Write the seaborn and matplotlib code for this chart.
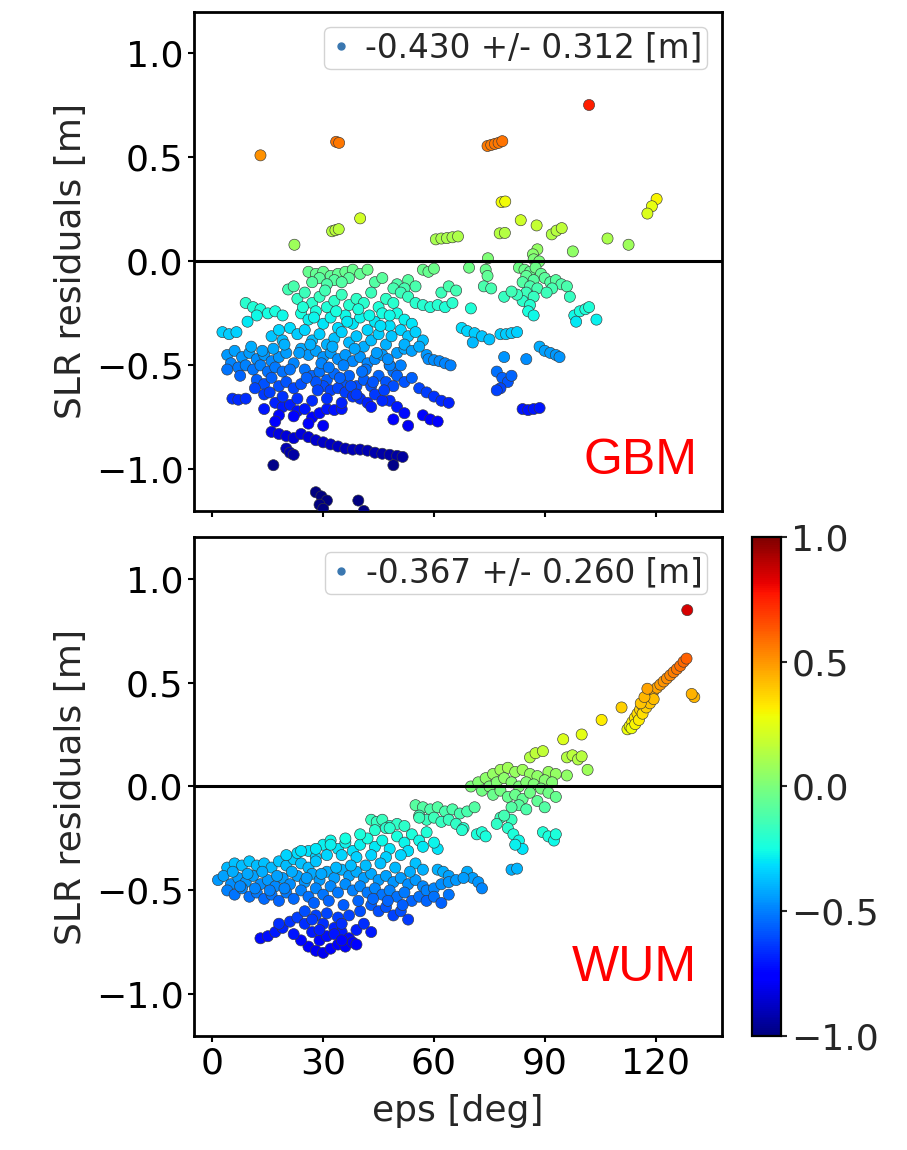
import matplotlib
matplotlib.use("Agg")
import matplotlib.pyplot as plt
import numpy as np
import pandas as pd
import seaborn as sns
from matplotlib.colors import Normalize
from matplotlib.cm import ScalarMappable
from matplotlib.lines import Line2D

sns.set_theme(style="ticks")
plt.rcParams["font.family"] = ["DejaVu Sans"]

# ---------------------------------------------------------------- GBM orbit
gbm_eps = [
    13, 33.5, 34.3, 74.5, 75.5, 76.5, 77.5, 78.5, 102,
    78.3, 79.3, 120.3, 119, 117.8, 40, 32.4, 33.3, 34.2, 22.2,
    60.5, 62, 63.5, 65, 66.5, 77.8, 79.2, 83.5, 87.8,
    91.9, 93.2, 94.6, 107, 112.7, 97.6, 88, 86.8, 74.6, 87, 88.5,
    26, 28, 30, 32, 34, 36, 38, 29, 33, 37, 40, 42, 27, 31, 35, 20.5,
    44, 46, 50, 53, 57, 58.5, 60, 55, 52, 69.5, 74, 74.5, 73.5, 75.5,
    83, 84.5, 86, 87.5, 89, 85, 87, 84, 86, 88, 85, 87, 84, 86, 85.5, 87,
    90, 91.5, 93, 94.5, 96, 92, 90.5, 82.5, 96.8, 79, 81,
    98, 99.5, 101, 102, 98.5, 104,
    9, 11, 13, 15, 17, 19, 12, 9.5, 2.7, 4.5, 6.5,
    23, 25, 27, 29, 31, 33, 35, 37, 39, 41, 43, 45, 47, 49,
    24, 26, 28, 30, 32, 34, 36, 38, 40, 42, 44, 46, 48,
    21, 23, 25, 27, 29, 31, 33, 35, 37, 39, 41, 43, 45, 47, 16, 18, 19,
    49, 51, 53, 55, 57, 59, 61, 63, 65, 62, 64, 66, 50, 52, 54, 48, 70,
    67.5, 69, 71, 73, 75, 70.5, 78, 79.5, 81, 82.5,
    4, 6, 8, 10, 12, 14, 16, 18, 20, 22, 5, 7, 4, 9, 11, 13, 15, 17, 19, 21,
    24, 26, 28, 30, 32, 34, 36, 38, 40, 42, 44, 46, 48, 50, 52,
    25, 27, 29, 31, 33, 35, 37, 39, 41, 43, 45, 47, 49, 51,
    30, 32, 34, 36, 38, 28, 12, 14, 16, 18, 20, 22, 24,
    51, 53, 55, 57, 52, 54, 56, 58, 58.5, 60, 61.5, 63, 64.5,
    79, 85, 88.6, 90, 91.5, 93, 94, 77, 78.5, 80, 81, 78, 77,
    84, 85.5, 87, 88.6, 48, 50, 52, 54, 56, 49, 58, 60, 62, 64,
    57, 59, 61, 48, 50, 52, 49, 53, 40, 42, 44, 46,
    5.4, 7, 9, 14, 14, 17, 19, 21, 23, 18, 22, 25, 27, 29, 26, 30, 31, 33, 35, 17,
    16, 18, 20, 22, 24, 26, 28, 30, 32, 34, 36, 38, 40, 42, 44, 46, 48, 50, 51.5,
    20, 21, 22, 16.5, 49, 28, 29.5, 31, 29, 39.5, 30, 41,
    22, 24.5, 27.5, 30.5, 33.5, 36.5, 39.5, 42.5, 45.5, 48.5,
    23.5, 26.5, 29.5, 32.5, 35.5, 38.5, 41.5, 44.5, 47.5,
    25.5, 28.5, 31.5, 34.5, 37.5, 40.5, 43.5, 46.5,
    10.5, 13.5, 16.5, 19.5, 7.5, 11.5, 15.5, 19, 23, 27, 31, 35, 39, 43,
]
gbm_res = [
    0.51, 0.575, 0.57, 0.555, 0.56, 0.565, 0.57, 0.578, 0.752,
    0.285, 0.288, 0.30, 0.265, 0.23, 0.207, 0.145, 0.15, 0.155, 0.08,
    0.106, 0.11, 0.112, 0.116, 0.12, 0.135, 0.137, 0.198, 0.173,
    0.13, 0.148, 0.16, 0.11, 0.08, 0.048, 0.058, 0.034, 0.015, 0.01, 0.0,
    -0.05, -0.06, -0.05, -0.07, -0.06, -0.05, -0.04, -0.08, -0.09, -0.08, -0.06, -0.04, -0.1, -0.11, -0.1, -0.135,
    -0.1, -0.08, -0.11, -0.09, -0.04, -0.05, -0.035, -0.12, -0.13, -0.03, -0.04, -0.07, -0.12, -0.13,
    -0.03, -0.04, -0.05, -0.03, -0.06, -0.07, -0.09, -0.1, -0.12, -0.13, -0.15, -0.17, -0.19, -0.21, -0.24, -0.26,
    -0.08, -0.1, -0.09, -0.11, -0.12, -0.13, -0.15, -0.16, -0.17, -0.17, -0.145,
    -0.26, -0.24, -0.23, -0.22, -0.29, -0.28,
    -0.2, -0.22, -0.23, -0.25, -0.24, -0.26, -0.26, -0.29, -0.34, -0.35, -0.34,
    -0.18, -0.15, -0.2, -0.17, -0.22, -0.19, -0.16, -0.21, -0.18, -0.2, -0.15, -0.22, -0.18, -0.2,
    -0.25, -0.28, -0.24, -0.3, -0.27, -0.32, -0.26, -0.3, -0.27, -0.33, -0.29, -0.25, -0.31,
    -0.32, -0.35, -0.33, -0.38, -0.35, -0.4, -0.37, -0.34, -0.39, -0.36, -0.41, -0.38, -0.35, -0.4, -0.36, -0.33, -0.38,
    -0.13, -0.15, -0.17, -0.2, -0.21, -0.22, -0.21, -0.22, -0.2, -0.15, -0.12, -0.14, -0.25, -0.28, -0.3, -0.26, -0.226,
    -0.32, -0.335, -0.345, -0.36, -0.375, -0.39, -0.35, -0.35, -0.345, -0.34,
    -0.45, -0.43, -0.46, -0.44, -0.47, -0.45, -0.48, -0.46, -0.44, -0.49, -0.49, -0.51, -0.52, -0.5, -0.52, -0.5, -0.53, -0.51, -0.53, -0.52,
    -0.42, -0.45, -0.43, -0.46, -0.44, -0.47, -0.45, -0.48, -0.46, -0.49, -0.47, -0.45, -0.5, -0.44, -0.42,
    -0.52, -0.55, -0.53, -0.57, -0.54, -0.58, -0.55, -0.6, -0.57, -0.6, -0.55, -0.58, -0.53, -0.5,
    -0.6, -0.62, -0.61, -0.63, -0.65, -0.58, -0.57, -0.59, -0.56, -0.6, -0.58, -0.61, -0.59,
    -0.33, -0.36, -0.34, -0.38, -0.4, -0.43, -0.41, -0.45, -0.47, -0.475, -0.48, -0.49, -0.5,
    -0.46, -0.47, -0.41, -0.43, -0.44, -0.45, -0.46, -0.53, -0.56, -0.58, -0.55, -0.61, -0.62,
    -0.71, -0.715, -0.71, -0.705, -0.5, -0.55, -0.58, -0.56, -0.61, -0.6, -0.63, -0.65, -0.67, -0.68,
    -0.74, -0.76, -0.77, -0.67, -0.7, -0.73, -0.76, -0.79, -0.66, -0.68, -0.64, -0.67,
    -0.66, -0.665, -0.66, -0.64, -0.71, -0.68, -0.7, -0.69, -0.72, -0.74, -0.745, -0.71, -0.75, -0.73, -0.78, -0.79, -0.71, -0.715, -0.71, -0.77,
    -0.82, -0.83, -0.84, -0.85, -0.83, -0.845, -0.86, -0.87, -0.88, -0.89, -0.9, -0.905, -0.905, -0.91, -0.92, -0.925, -0.93, -0.935, -0.94,
    -0.9, -0.92, -0.93, -0.98, -0.98, -1.11, -1.13, -1.15, -1.17, -1.15, -1.19, -1.2,
    -0.12, -0.22, -0.27, -0.14, -0.24, -0.29, -0.23, -0.26, -0.31, -0.36,
    -0.44, -0.4, -0.49, -0.41, -0.5, -0.42, -0.52, -0.44, -0.47,
    -0.56, -0.62, -0.51, -0.56, -0.6, -0.53, -0.58, -0.62,
    -0.41, -0.43, -0.42, -0.4, -0.55, -0.61, -0.63, -0.65, -0.66, -0.67, -0.66, -0.68, -0.64, -0.7,
]

# ---------------------------------------------------------------- WUM orbit
wum_eps = [
    128.6, 130.5, 129.8, 110.8, 105.4, 100, 95,
    112.4, 113, 113.7, 114.4, 115.1, 115.8, 116.5, 117.2, 117.9, 118.6, 119.5,
    120.4, 121.3, 122.2, 123.1, 124, 124.9, 125.8, 126.7, 127.6, 128.4,
    113.5, 114.5, 115.5, 116.5, 117.5, 118.5, 119.5, 116, 117, 117.8,
    96, 97.5, 99, 100, 101.6, 86, 87.5, 89.5, 96, 91, 93,
    70, 72, 74, 76, 78, 80, 82, 84, 86, 88, 90, 92,
    73, 75, 77, 79, 81, 83, 85, 87, 89, 91, 93,
    76, 78, 80, 82, 84, 86, 88, 90, 83, 85, 81,
    55, 57, 59, 61, 63, 65, 67, 69, 71, 56, 58, 60, 62, 64, 66, 68, 67.6,
    43, 44.5, 46, 48, 50, 47, 81, 80, 81.5, 83, 84, 82, 78, 77, 79,
    89.5, 91, 92.5, 93, 71.6, 73, 74, 81, 82.5, 69, 70.5, 72, 73, 61, 62.5, 64, 55, 57, 61, 60,
    30, 32, 34, 36, 38, 40, 42, 44, 46, 48, 50, 52, 54, 56, 58, 53, 57, 35, 39, 43, 47, 51, 31, 26, 28,
    4, 6, 8, 10, 12, 14, 16, 18, 20, 22, 24, 26, 28, 23,
    1.5, 3, 5, 7, 9, 11, 13, 15, 17, 19, 21, 23, 25, 27, 29,
    31, 33, 35, 37, 39, 41, 43, 45, 47, 49, 51, 53, 55, 57,
    4, 6, 8, 10, 12, 14, 16, 18, 20, 22, 24, 26, 28, 30, 32, 34,
    36, 38, 40, 42, 44, 46, 48, 50, 52, 54, 56, 58, 60, 62, 64, 66, 68,
    43, 45, 47, 49, 51, 53, 58, 60, 62, 64,
    13, 15, 17, 19, 21, 23, 25, 27, 29, 31, 33, 35, 37, 39, 41, 43,
    26, 28, 30, 32, 34, 36, 38, 24, 22, 25, 28, 31, 34, 37, 40, 30, 35,
    5.5, 9.5, 13.5, 17.5, 21.5, 25.5, 29.5, 33.5, 37.5, 41.5, 45.5, 49.5, 53.5,
    7.5, 11.5, 15.5, 19.5, 27.5, 31.5, 35.5, 39.5, 43.5, 47.5, 51.5,
    20, 24, 28, 32, 36, 40, 44, 48, 52, 56,
    18, 27, 33, 39, 29, 35,
]
wum_res = [
    0.848, 0.43, 0.445, 0.38, 0.32, 0.25, 0.227,
    0.275, 0.29, 0.31, 0.33, 0.35, 0.37, 0.39, 0.41, 0.43, 0.445, 0.46,
    0.475, 0.49, 0.505, 0.52, 0.535, 0.55, 0.565, 0.58, 0.6, 0.615,
    0.28, 0.3, 0.32, 0.35, 0.38, 0.4, 0.42, 0.4, 0.43, 0.47,
    0.14, 0.15, 0.13, 0.145, 0.08, 0.14, 0.16, 0.17, 0.053, 0.07, 0.06,
    0.0, 0.02, 0.04, 0.06, 0.08, 0.09, 0.07, 0.08, 0.06, 0.05, 0.03, 0.02,
    -0.02, 0.0, 0.02, 0.04, 0.02, 0.0, 0.02, 0.01, -0.01, -0.03, -0.05,
    -0.04, -0.02, -0.05, -0.04, -0.06, -0.03, -0.07, -0.1, -0.09, -0.11, -0.1,
    -0.09, -0.1, -0.11, -0.1, -0.12, -0.11, -0.13, -0.12, -0.1, -0.14, -0.16, -0.15, -0.17, -0.16, -0.18, -0.2, -0.21,
    -0.16, -0.17, -0.16, -0.19, -0.18, -0.2, -0.16, -0.2, -0.23, -0.26, -0.3, -0.28, -0.15, -0.18, -0.14,
    -0.22, -0.24, -0.26, -0.23, -0.23, -0.22, -0.24, -0.4, -0.395, -0.41, -0.44, -0.46, -0.49, -0.4, -0.41, -0.43, -0.37, -0.4, -0.3, -0.27,
    -0.28, -0.26, -0.3, -0.27, -0.31, -0.28, -0.25, -0.29, -0.26, -0.3, -0.24, -0.27, -0.23, -0.26, -0.22, -0.31, -0.29, -0.33, -0.34, -0.33, -0.34, -0.33, -0.33, -0.31, -0.34,
    -0.39, -0.37, -0.38, -0.36, -0.38, -0.37, -0.39, -0.36, -0.38, -0.35, -0.37, -0.39, -0.36, -0.32,
    -0.45, -0.43, -0.47, -0.44, -0.46, -0.43, -0.47, -0.45, -0.48, -0.44, -0.47, -0.43, -0.46, -0.42, -0.45,
    -0.41, -0.44, -0.4, -0.43, -0.41, -0.44, -0.42, -0.45, -0.43, -0.46, -0.44, -0.47, -0.45, -0.48,
    -0.5, -0.52, -0.49, -0.53, -0.51, -0.54, -0.52, -0.55, -0.51, -0.54, -0.5, -0.53, -0.49, -0.52, -0.48, -0.51,
    -0.47, -0.5, -0.48, -0.51, -0.49, -0.52, -0.5, -0.53, -0.51, -0.55, -0.53, -0.5, -0.49, -0.47, -0.46, -0.45, -0.44,
    -0.57, -0.6, -0.58, -0.62, -0.6, -0.64, -0.55, -0.53, -0.56, -0.52,
    -0.73, -0.72, -0.7, -0.68, -0.65, -0.63, -0.66, -0.7, -0.74, -0.72, -0.68, -0.7, -0.73, -0.69, -0.66, -0.7,
    -0.77, -0.79, -0.8, -0.78, -0.76, -0.77, -0.75, -0.74, -0.71, -0.6, -0.62, -0.61, -0.63, -0.62, -0.6, -0.66, -0.66,
    -0.41, -0.42, -0.41, -0.43, -0.41, -0.44, -0.42, -0.39, -0.38, -0.38, -0.37, -0.39, -0.41,
    -0.48, -0.49, -0.5, -0.49, -0.56, -0.55, -0.57, -0.55, -0.54, -0.55, -0.57,
    -0.33, -0.31, -0.3, -0.28, -0.25, -0.23, -0.21, -0.2, -0.19, -0.15,
    -0.66, -0.64, -0.71, -0.76, -0.69, -0.74,
]

panel_names = ["GBM", "WUM"]
panel_stats = ["-0.430 +/- 0.312 [m]", "-0.367 +/- 0.260 [m]"]
y_ticks = [-1.0, -0.5, 0.0, 0.5, 1.0]
x_ticks = [0, 30, 60, 90, 120]

TICK_FS = 26
norm = Normalize(vmin=-1.0, vmax=1.0)
jet = matplotlib.colormaps["jet"]

fig = plt.figure(figsize=(9.07, 11.5), dpi=100)
ax_top = fig.add_axes([0.2139, 0.5557, 0.5821, 0.434])
ax_bot = fig.add_axes([0.2139, 0.0991, 0.5821, 0.434], sharex=ax_top)
cax = fig.add_axes([0.8291, 0.0991, 0.032, 0.434])

panels = [(ax_top, gbm_eps, gbm_res), (ax_bot, wum_eps, wum_res)]
for (ax, eps, res), name, stat in zip(panels, panel_names, panel_stats):
    df = pd.DataFrame({"eps": eps, "res": res})
    sns.scatterplot(data=df, x="eps", y="res", hue="res", palette=jet,
                    hue_norm=norm, s=64, edgecolor="#3a3a3a", linewidth=0.45,
                    legend=False, ax=ax, zorder=3)
    ax.axhline(0.0, color="black", lw=2.2, zorder=4)
    ax.set_xlim(-5, 138)
    ax.set_ylim(-1.2, 1.2)
    ax.set_xticks(x_ticks)
    ax.set_yticks(y_ticks)
    ax.set_ylabel("SLR residuals [m]", fontsize=TICK_FS, labelpad=6)
    ax.tick_params(axis="both", direction="out", length=4, width=1.5,
                   labelsize=TICK_FS, color="black", labelcolor="black")
    for sp in ax.spines.values():
        sp.set_linewidth(2.0)
        sp.set_color("black")
        sp.set_visible(True)
    handle = Line2D([], [], marker="o", ls="", color="#3a77b0", markersize=5)
    ax.legend([handle], [stat], loc="upper right", fontsize=23.5,
              handlelength=0.7, handletextpad=0.4, borderpad=0.15,
              borderaxespad=0.45, framealpha=0.85, edgecolor="#cccccc",
              fancybox=True)
    ax.text(0.953, 0.10 if name == "GBM" else 0.136, name,
            transform=ax.transAxes, ha="right", va="center", color="red",
            fontsize=36, family=["Liberation Sans", "DejaVu Sans"])

ax_top.set_xlabel("")
ax_top.tick_params(labelbottom=False)
ax_bot.set_xlabel("eps [deg]", fontsize=TICK_FS, labelpad=10)

sm = ScalarMappable(norm=norm, cmap=jet)
cb = fig.colorbar(sm, cax=cax, ticks=y_ticks)
cb.ax.tick_params(labelsize=TICK_FS, length=4, width=1.5, direction="out")
cb.outline.set_linewidth(1.6)
cb.outline.set_edgecolor("black")

fig.savefig("out.png", dpi=100)
